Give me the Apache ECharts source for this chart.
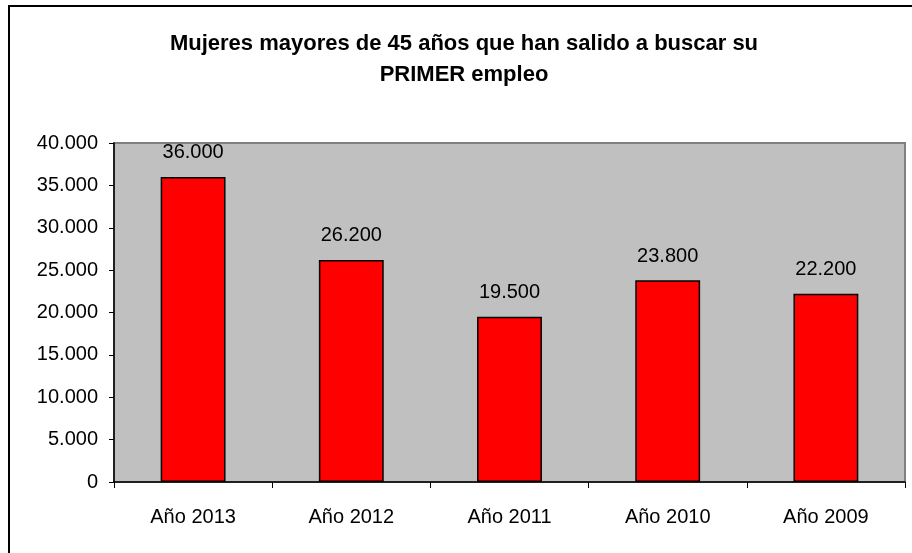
<!DOCTYPE html>
<html>
<head>
<meta charset="utf-8">
<script src="https://cdn.jsdelivr.net/npm/echarts@6/dist/echarts.min.js"></script>
<style>
  html, body { margin: 0; padding: 0; background: #fff; }
  #chart { width: 912px; height: 553px; }
</style>
</head>
<body>
<div id="chart"></div>
<script>
var categories = ['Año 2013', 'Año 2012', 'Año 2011', 'Año 2010', 'Año 2009'];
var values = [36000, 26200, 19500, 23800, 22200];
var titleText = 'Mujeres mayores de 45 años que han salido a buscar su\nPRIMER empleo';

function fmt(v) {
    return String(v).replace(/\B(?=(\d{3})+(?!\d))/g, '.');
}

var chart = echarts.init(document.getElementById('chart'));
chart.setOption({
    backgroundColor: '#fff',
    animation: false,
    title: {
        text: titleText,
        left: 459,
        top: 23,
        textAlign: 'center',
        textStyle: {
            fontFamily: 'Liberation Sans',
            fontSize: 22,
            fontWeight: 'bold',
            color: '#000',
            lineHeight: 31,
            align: 'center'
        }
    },
    graphic: [{
        type: 'rect',
        shape: { x: 9, y: 6, width: 940, height: 600 },
        style: { fill: 'none', stroke: '#000', lineWidth: 2 },
        silent: true
    }],
    grid: {
        left: 114,
        top: 143,
        width: 791,
        height: 339,
        show: true,
        backgroundColor: '#C0C0C0',
        borderColor: '#808080',
        borderWidth: 2
    },
    xAxis: {
        type: 'category',
        data: categories,
        axisLine: { lineStyle: { color: '#000', width: 1.5 } },
        axisTick: { show: true, length: 6, alignWithLabel: false, lineStyle: { color: '#000' } },
        axisLabel: {
            fontFamily: 'Liberation Sans',
            fontSize: 20,
            color: '#000',
            margin: 25
        }
    },
    yAxis: {
        type: 'value',
        min: 0,
        max: 40000,
        interval: 5000,
        splitLine: { show: false },
        axisLine: { show: true, lineStyle: { color: '#000', width: 1.5 } },
        axisTick: { show: true, length: 5, lineStyle: { color: '#000' } },
        axisLabel: {
            fontFamily: 'Liberation Sans',
            fontSize: 20,
            color: '#000',
            margin: 16,
            formatter: function (v) { return fmt(v); }
        }
    },
    series: [{
        type: 'bar',
        data: values,
        barCategoryGap: '59%',
        itemStyle: { color: '#FF0000', borderColor: '#000', borderWidth: 1.5 },
        label: {
            show: true,
            position: 'top',
            distance: 14,
            fontFamily: 'Liberation Sans',
            fontSize: 20,
            color: '#000',
            formatter: function (p) { return fmt(p.value); }
        }
    }]
});
</script>
</body>
</html>
